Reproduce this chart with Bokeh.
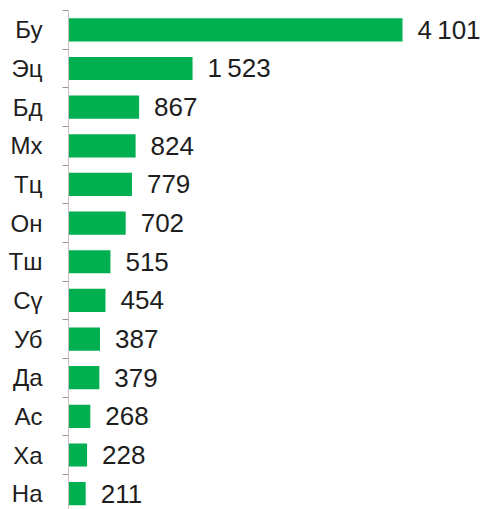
from bokeh.plotting import figure
from bokeh.models import Range1d, FixedTicker, ColumnDataSource
from bokeh.core.properties import value
from bokeh.embed import file_html
from bokeh.resources import INLINE

categories = ["Бу", "Эц", "Бд", "Мх", "Тц", "Он", "Тш", "Сү", "Уб", "Да", "Ас", "Ха", "На"]
values = [4101, 1523, 867, 824, 779, 702, 515, 454, 387, 379, 268, 228, 211]

pos = list(range(len(categories)))
labels = [f"{v:,}".replace(",", "\u2009") for v in values]

src = ColumnDataSource(dict(y=pos, v=values, lab=labels))

p = figure(width=485, height=509, output_backend="svg", toolbar_location=None,
           x_range=Range1d(0, 5120), y_range=Range1d(12.41, -0.5),
           min_border_left=68, min_border_top=10, min_border_bottom=0, min_border_right=0)
p.outline_line_color = None
p.background_fill_color = "white"
p.border_fill_color = "white"
p.xgrid.visible = False
p.ygrid.visible = False
p.xaxis.visible = False

p.hbar(y="y", left=0, right="v", height=0.6, source=src,
       fill_color="#00B050", line_color=None)

p.text(x="v", y="y", text="lab", source=src, x_offset=15,
       text_align="left", text_baseline="middle",
       text_font=value("Liberation Sans"), text_font_size="26px", text_color="#1e1e1e")

ax = p.yaxis[0]
ax.ticker = FixedTicker(ticks=pos, minor_ticks=[i - 0.5 for i in range(len(categories) + 1)])
ax.major_label_overrides = {i: c for i, c in enumerate(categories)}
ax.major_tick_out = 0
ax.major_tick_in = 0
ax.minor_tick_out = 6
ax.minor_tick_in = 0
ax.minor_tick_line_color = "#a09090"
ax.axis_line_color = "#c8c0c0"
ax.major_label_standoff = 20
ax.major_label_text_font = "Liberation Sans"
ax.major_label_text_font_size = "24px"
ax.major_label_text_color = "#1e1e1e"

open("out.html", "w").write(file_html(p, INLINE))
